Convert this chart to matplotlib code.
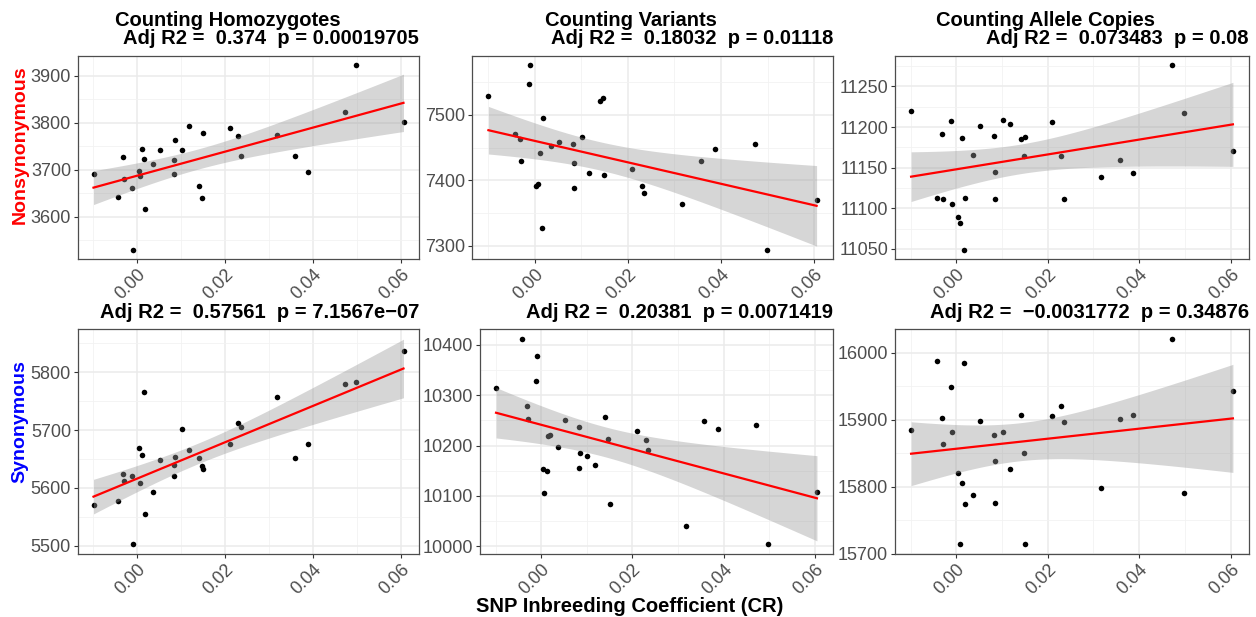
import matplotlib
matplotlib.use("Agg")
import matplotlib.pyplot as plt
import numpy as np
from matplotlib.ticker import MultipleLocator, FormatStrFormatter

plt.rcParams["font.family"] = ["Liberation Sans", "DejaVu Sans"]

# SNP inbreeding coefficient, shared by every panel
inbreeding = [-0.0099, -0.0043, -0.0032, -0.0029, -0.0011, -0.0009, 0.0004, 0.0007,
              0.0012, 0.0016, 0.0019, 0.0036, 0.0052, 0.0083, 0.0084, 0.0085,
              0.0101, 0.0117, 0.0141, 0.0147, 0.0150, 0.0210, 0.0230, 0.0235,
              0.0317, 0.0358, 0.0387, 0.0472, 0.0498, 0.0605]

nonsyn_homozygotes = [3691, 3642, 3728, 3680, 3661, 3530, 3697, 3687, 3745, 3722,
                      3616, 3712, 3742, 3690, 3721, 3763, 3742, 3793, 3665, 3639,
                      3779, 3789, 3772, 3730, 3774, 3730, 3695, 3822, 3922, 3801]
nonsyn_variants = [7529, 7471, 7464, 7430, 7547, 7576, 7391, 7394, 7442, 7327,
                   7496, 7453, 7459, 7455, 7389, 7426, 7467, 7411, 7521, 7526,
                   7409, 7417, 7392, 7381, 7364, 7430, 7448, 7455, 7294, 7370]
nonsyn_alleles = [11220, 11113, 11192, 11111, 11208, 11105, 11089, 11082, 11187, 11049,
                  11113, 11165, 11201, 11189, 11145, 11111, 11209, 11204, 11185, 11164,
                  11188, 11206, 11164, 11112, 11139, 11160, 11143, 11276, 11217, 11171]
syn_homozygotes = [5570, 5577, 5624, 5612, 5621, 5503, 5668, 5609, 5657, 5766,
                   5554, 5592, 5648, 5621, 5639, 5654, 5702, 5665, 5651, 5638,
                   5632, 5676, 5712, 5706, 5758, 5651, 5676, 5779, 5784, 5836]
syn_variants = [10315, 10411, 10279, 10253, 10328, 10378, 10154, 10105, 10149, 10218,
                10220, 10197, 10251, 10156, 10237, 10186, 10180, 10162, 10257, 10213,
                10083, 10229, 10210, 10191, 10041, 10249, 10232, 10241, 10005, 10107]
syn_alleles = [15885, 15988, 15903, 15864, 15949, 15881, 15821, 15715, 15805, 15985,
               15774, 15788, 15898, 15877, 15839, 15776, 15882, 15826, 15907, 15850,
               15715, 15905, 15921, 15897, 15798, 15901, 15907, 16020, 15791, 15943]

col_titles = ["Counting Homozygotes", "Counting Variants", "Counting Allele Copies"]
stat_labels = ["Adj R2 =  0.374  p = 0.00019705",
               "Adj R2 =  0.18032  p = 0.01118",
               "Adj R2 =  0.073483  p = 0.08",
               "Adj R2 =  0.57561  p = 7.1567e\u221207",
               "Adj R2 =  0.20381  p = 0.0071419",
               "Adj R2 =  \u22120.0031772  p = 0.34876"]
row_labels = ["Nonsynonymous", "Synonymous"]
xlabel = "SNP Inbreeding Coefficient (CR)"

W, H = 1256, 617
fig = plt.figure(figsize=(W / 100, H / 100), dpi=100)
fig.patch.set_facecolor("white")


def rect(l, t, r, b):
    return [l / W, 1 - b / H, (r - l) / W, (b - t) / H]


panels = [
    (nonsyn_homozygotes, (78, 56, 419, 259), 100),
    (nonsyn_variants, (472, 56, 833, 259), 100),
    (nonsyn_alleles, (895, 56, 1249, 259), 50),
    (syn_homozygotes, (78, 329, 419, 554), 100),
    (syn_variants, (480, 329, 833, 554), 100),
    (syn_alleles, (895, 329, 1249, 554), 100),
]

T_CRIT = 2.048407  # t(0.975, df=28)
x = np.array(inbreeding)
TITLE_FS = 14.5

for i, (yvals, box, ystep) in enumerate(panels):
    y = np.array(yvals, dtype=float)
    ax = fig.add_axes(rect(*box))

    # lm fit with 95% confidence band
    n = len(x)
    slope, intercept = np.polyfit(x, y, 1)
    resid = y - (slope * x + intercept)
    s = np.sqrt(np.sum(resid ** 2) / (n - 2))
    sxx = np.sum((x - x.mean()) ** 2)
    xs = np.linspace(x.min(), x.max(), 80)
    ys = slope * xs + intercept
    se = s * np.sqrt(1 / n + (xs - x.mean()) ** 2 / sxx)
    lo, hi = ys - T_CRIT * se, ys + T_CRIT * se

    ax.scatter(x, y, s=16, color="black", linewidths=0, zorder=3)
    ax.fill_between(xs, lo, hi, color="#999999", alpha=0.4, linewidth=0, zorder=4)
    ax.plot(xs, ys, color="red", lw=1.6, zorder=5)

    xr = x.max() - x.min()
    ax.set_xlim(x.min() - 0.05 * xr, x.max() + 0.05 * xr)
    ymin, ymax = min(y.min(), lo.min()), max(y.max(), hi.max())
    yr = ymax - ymin
    ax.set_ylim(ymin - 0.05 * yr, ymax + 0.05 * yr)

    ax.xaxis.set_major_locator(MultipleLocator(0.02))
    ax.xaxis.set_minor_locator(MultipleLocator(0.01))
    ax.xaxis.set_major_formatter(FormatStrFormatter("%.2f"))
    ax.yaxis.set_major_locator(MultipleLocator(ystep))
    ax.yaxis.set_minor_locator(MultipleLocator(ystep / 2))
    ax.grid(which="major", color="#EBEBEB", lw=1.1, zorder=0)
    ax.grid(which="minor", color="#F2F2F2", lw=0.6, zorder=0)
    ax.set_axisbelow(True)
    ax.tick_params(which="major", direction="out", length=3, width=0.8,
                   color="#333333", labelcolor="#4D4D4D", labelsize=13, pad=2)
    ax.tick_params(which="minor", length=0)
    for lab in ax.get_xticklabels():
        lab.set_rotation(45)
        lab.set_ha("right")
        lab.set_rotation_mode("anchor")
    for sp in ax.spines.values():
        sp.set_color("#4D4D4D")
        sp.set_linewidth(0.9)

    # titles
    right = box[2]
    if i < 3:
        centers = [228, 631, 1045]
        fig.text(centers[i] / W, 1 - 26.5 / H, col_titles[i], ha="center",
                 va="baseline", fontsize=TITLE_FS, fontweight="bold")
        fig.text(right / W, 1 - 43.5 / H, stat_labels[i], ha="right",
                 va="baseline", fontsize=TITLE_FS, fontweight="bold")
    else:
        fig.text(right / W, 1 - 317.5 / H, stat_labels[i], ha="right",
                 va="baseline", fontsize=TITLE_FS, fontweight="bold")

fig.text(20 / W, 1 - 145 / H, row_labels[0], rotation=90, ha="center", va="center",
         fontsize=14, fontweight="bold", color="red")
fig.text(20 / W, 1 - 422 / H, row_labels[1], rotation=90, ha="center", va="center",
         fontsize=14, fontweight="bold", color="blue")
fig.text(630 / W, 1 - 606 / H, xlabel, ha="center", va="center",
         fontsize=TITLE_FS, fontweight="bold")

fig.savefig("out.png", dpi=100, facecolor="white")
